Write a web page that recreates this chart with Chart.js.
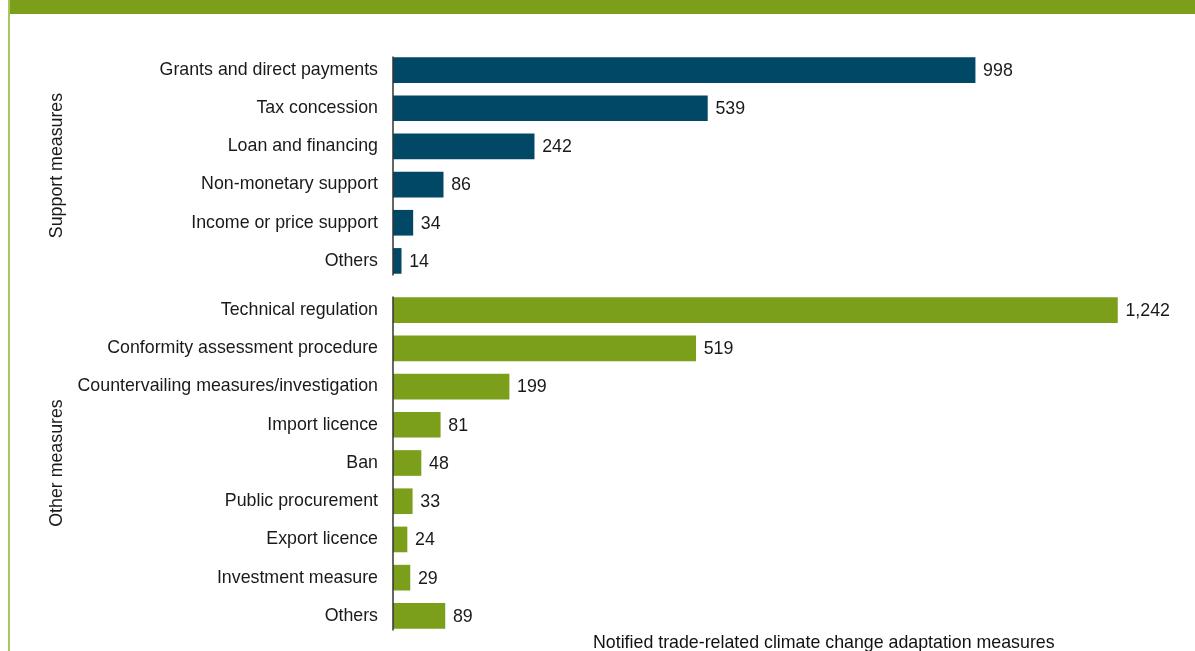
<!DOCTYPE html>
<html>
<head>
<meta charset="utf-8">
<script src="https://cdn.jsdelivr.net/npm/chart.js@4"></script>
<style>
  html, body { margin:0; padding:0; background:#fff; width:1195px; height:651px; overflow:hidden; }
  #banner { position:absolute; left:8px; top:0; width:1187px; height:14px; background:#7b9e1b; }
  #border { position:absolute; left:8px; top:0; width:2px; height:651px; background:#a6c760; }
  .wrap { position:absolute; left:0; width:1195px; }
  #w1 { top:51px; height:229px; }
  #w2 { top:291px; height:344px; }
  #xtitle { position:absolute; left:593px; top:632px; font-family:"Liberation Sans", Arial, sans-serif; font-size:17.8px; color:#111; white-space:nowrap; }
</style>
</head>
<body>
<div id="banner"></div>
<div id="border"></div>
<div class="wrap" id="w1"><canvas id="c1"></canvas></div>
<div class="wrap" id="w2"><canvas id="c2"></canvas></div>
<div id="xtitle">Notified trade-related climate change adaptation measures</div>
<script>
const supportLabels = ["Grants and direct payments","Tax concession","Loan and financing","Non-monetary support","Income or price support","Others"];
const supportValues = [998, 539, 242, 86, 34, 14];
const otherLabels = ["Technical regulation","Conformity assessment procedure","Countervailing measures/investigation","Import licence","Ban","Public procurement","Export licence","Investment measure","Others"];
const otherValues = [1242, 519, 199, 81, 48, 33, 24, 29, 89];
const groupTitles = ["Support measures", "Other measures"];
const xMax = 1375;

const FONT = '"Liberation Sans", Arial, sans-serif';
const FSIZE = 17.8;

const labelPlugin = {
  id: 'valueLabels',
  afterDatasetsDraw(chart) {
    const ctx = chart.ctx;
    const meta = chart.getDatasetMeta(0);
    const data = chart.data.datasets[0].data;
    ctx.save();
    ctx.font = FSIZE + 'px ' + FONT;
    ctx.fillStyle = '#1a1a1a';
    ctx.textBaseline = 'middle';
    ctx.textAlign = 'left';
    meta.data.forEach((bar, i) => {
      ctx.fillText(data[i].toLocaleString('en-US'), bar.x + 8, bar.y + 1);
    });
    // axis line spanning the bars
    const first = meta.data[0], last = meta.data[meta.data.length - 1];
    const x = chart.chartArea.left;
    ctx.strokeStyle = '#333';
    ctx.lineWidth = 1.5;
    ctx.beginPath();
    ctx.moveTo(x, first.y - first.height / 2 - 1);
    ctx.lineTo(x, last.y + last.height / 2 + 2);
    ctx.stroke();
    ctx.restore();
  }
};

function makeChart(id, labels, values, color, title) {
  return new Chart(document.getElementById(id), {
    type: 'bar',
    data: { labels: labels, datasets: [{ data: values, backgroundColor: color, borderWidth: 0, barThickness: 25 }] },
    options: {
      indexAxis: 'y',
      responsive: true,
      maintainAspectRatio: false,
      animation: false,
      layout: { padding: 0, autoPadding: false },
      plugins: { legend: { display: false }, tooltip: { enabled: false } },
      scales: {
        x: { display: false, min: 0, max: xMax },
        y: {
          grid: { display: false, drawTicks: false },
          border: { display: false },
          ticks: { color: '#1a1a1a', font: { family: FONT, size: FSIZE }, padding: 15 },
          title: { display: true, text: title, color: '#1a1a1a', font: { family: FONT, size: FSIZE }, padding: { top: 46, bottom: 0 } },
          afterFit(scale) { scale.width = 393; scale.paddingTop = 0; scale.paddingBottom = 0; }
        }
      }
    },
    plugins: [labelPlugin]
  });
}

makeChart('c1', supportLabels, supportValues, '#004866', groupTitles[0]);
makeChart('c2', otherLabels, otherValues, '#7b9e1b', groupTitles[1]);
</script>
</body>
</html>
